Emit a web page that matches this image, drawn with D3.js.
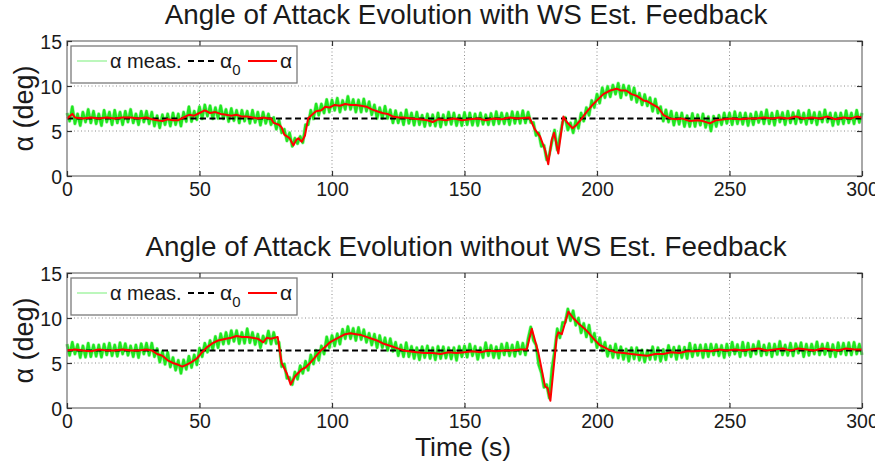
<!DOCTYPE html>
<html>
<head>
<meta charset="utf-8">
<script src="https://cdn.jsdelivr.net/npm/d3@7"></script>
<style>
  body { margin: 0; background: #fff; }
  svg text { font-family: "Liberation Sans", Arial, sans-serif; fill: #1a1a1a; }
</style>
</head>
<body>
<svg id="chart" width="875" height="462"></svg>
<script>
// tick values
var timeTicks = [0, 50, 100, 150, 200, 250, 300];
var alphaTicks = [0, 5, 10, 15];

var titleTop = "Angle of Attack Evolution with WS Est. Feedback";
var titleBot = "Angle of Attack Evolution without WS Est. Feedback";

// alpha_0 reference (deg)
var alpha0 = [[0, 6.4], [300, 6.4]];

// filtered alpha, [time s, deg]
var alphaTop = [[0,6.4],[2,6.9],[3,6.5],[6,6.4],[9,6.5],[12,6.4],[15,6.5],[18,6.4],[21,6.5],[24,6.5],
  [27,6.4],[30,6.5],[32,6.3],[34,6.2],[36,6.1],[38,6.3],[40,6.2],[42,6.2],[44,6.5],[46,6.8],
  [48,6.7],[50,7.0],[52,7.3],[54,7.0],[56,7.1],[58,6.9],[60,6.8],[62,6.7],[64,6.8],[66,6.6],
  [68,6.6],[70,6.5],[72,6.4],[74,6.5],[76,6.4],[77,6.4],[78,5.9],[80,5.7],[81,5.4],[82,4.6],
  [84,4.2],[85.4,3.4],[86.5,4.0],[87.3,4.2],[88.6,3.8],[89.8,4.5],[91,6.4],[92,6.7],[94,7.2],[96,7.3],
  [97.5,7.7],[99,7.6],[101,7.9],[103,7.8],[105,8.0],[107,7.9],[109,7.9],[111,7.8],[113,7.7],[115,7.4],
  [117,7.2],[119,7.0],[121,6.9],[123,6.6],[125,6.5],[127,6.5],[130,6.4],[133,6.3],[136,6.2],[138,6.0],
  [140,6.3],[143,6.2],[146,6.4],[149,6.2],[152,6.3],[155,6.4],[158,6.2],[161,6.4],[164,6.3],[167,6.5],
  [170,6.4],[174.5,6.5],[176.5,5.2],[178.5,4.4],[180.4,2.9],[181.6,1.3],[182.9,4.0],[183.8,4.8],[185.4,2.5],[187.3,6.6],
  [188.6,6.0],[190.8,5.3],[192.3,5.7],[194,6.3],[196,7.1],[198,7.8],[200,8.4],[202.4,9.1],[205,9.5],[207.4,9.7],
  [209,9.5],[211,9.5],[213,9.1],[215,8.9],[217.5,8.4],[219,8.3],[221.3,7.9],[223.1,7.6],[225,6.8],[227.5,6.4],
  [230,6.3],[232,6.4],[235,6.1],[238,6.2],[240,6.1],[242.6,5.85],[245,6.2],[248,6.3],[251,6.4],[254,6.3],
  [257,6.4],[260,6.4],[263,6.5],[266,6.4],[269,6.5],[272,6.4],[275,6.6],[278,6.4],[281,6.5],[284,6.4],
  [287,6.6],[290,6.3],[293,6.5],[296,6.4],[298,6.6],[300,6.5]];

var alphaBot = [[0,6.4],[3,6.5],[6,6.4],[9,6.3],[12,6.5],[15,6.4],[18,6.4],[21,6.5],[24,6.4],[27,6.4],
  [30,6.5],[32,6.4],[34,6.0],[36,5.8],[38,5.3],[40,5.0],[42,4.8],[43.5,4.6],[45,4.8],[47,5.1],
  [49,5.5],[51,6.2],[53,6.8],[55,7.2],[57,7.5],[60,7.7],[62,7.8],[64,8.0],[66,7.9],[68,7.9],
  [70,7.8],[72,7.7],[74,7.3],[75.4,7.8],[77,7.7],[79.5,7.9],[81,5.0],[83,3.8],[84.4,2.6],[86,3.5],
  [88.6,4.3],[90,4.5],[91.7,5.0],[93.5,5.6],[95.5,6.3],[97.5,6.8],[99.2,7.3],[101,7.6],[103,7.9],[105,8.2],
  [107,8.3],[109,8.2],[111,8.1],[113,7.9],[115,7.7],[117,7.5],[119,7.2],[121,7.0],[123,6.8],[125,6.6],
  [127,6.4],[129,6.3],[132,6.2],[135,6.1],[138,6.1],[141,6.0],[144,6.2],[147,6.1],[150,6.2],[153,6.3],
  [156,6.2],[159,6.4],[162,6.3],[165,6.4],[168,6.4],[171,6.5],[173.5,6.5],[175.4,8.8],[177.9,6.1],[180.4,2.4],
  [181.4,2.2],[182.4,0.8],[184.8,7.9],[185.4,8.4],[186.7,8.2],[189.2,10.7],[191,10.0],[193,9.4],[195,8.9],[197,8.3],
  [199,7.6],[201,7.0],[203,6.7],[205,6.4],[207,6.2],[210,6.1],[213,6.0],[216,5.9],[219,5.8],[222,6.0],
  [225,6.0],[228,6.2],[231,6.1],[234,6.3],[237,6.3],[240,6.4],[243,6.3],[246,6.5],[249,6.4],[252,6.5],
  [255,6.4],[258,6.5],[261,6.6],[264,6.4],[267,6.5],[270,6.6],[273,6.4],[276,6.6],[279,6.5],[282,6.4],
  [285,6.6],[288,6.5],[291,6.4],[294,6.6],[297,6.5],[300,6.5]];

// measured alpha, one sample per second from t = 0
var measTop = [7.0,6.1,7.7,5.8,6.9,5.6,7.1,6.0,7.4,5.9,
  7.2,5.8,6.9,5.6,7.3,6.0,7.1,5.7,7.3,5.9,
  7.1,5.7,7.2,6.0,7.4,5.9,6.9,5.7,7.2,6.0,
  7.2,5.8,7.1,5.55,6.7,5.35,6.8,5.7,6.9,5.55,
  7.0,5.7,6.9,5.55,7.1,6.05,7.7,6.05,7.2,6.25,
  7.7,6.35,7.9,6.65,7.8,6.35,7.6,6.4,7.8,6.35,
  7.4,6.05,7.5,6.15,7.3,5.9,7.3,6.1,7.2,5.85,
  7.3,5.95,7.1,5.65,7.1,5.85,6.9,5.7,6.5,5.2,
  6.2,4.8,5.2,3.9,4.8,3.3,4.2,3.6,4.4,3.7,
  5.7,5.7,7.3,6.35,8.0,6.75,8.0,7.0,8.5,7.1,
  8.45,7.3,8.65,7.1,8.4,7.4,8.85,7.4,8.5,7.1,
  8.45,7.1,8.55,7.2,8.25,6.8,7.9,6.4,7.6,6.4,
  7.75,6.4,7.35,5.9,7.25,5.9,7.0,5.7,7.35,5.85,
  7.0,5.65,7.1,5.7,6.75,5.5,6.9,5.6,6.8,5.55,
  7.0,5.45,6.8,5.7,7.1,5.75,7.0,5.6,6.75,5.6,
  7.05,5.7,7.0,5.65,6.9,5.6,7.0,5.75,6.8,5.7,
  6.95,5.7,7.15,5.8,7.0,5.8,6.95,5.7,7.15,5.85,
  7.1,5.85,7.25,5.9,7.1,5.95,5.95,4.5,4.8,3.3,
  3.4,1.8,2.4,3.8,5.1,2.9,4.4,6.0,6.5,5.1,
  5.9,4.8,6.2,5.3,7.0,6.1,7.6,6.75,8.4,7.6,
  9.1,8.1,9.8,8.7,9.95,8.8,10.1,9.1,10.3,8.7,
  10.1,9.0,10.0,8.5,9.8,8.2,9.2,7.9,9.05,7.8,
  8.7,7.2,8.55,7.0,7.7,6.1,7.35,6.0,7.2,5.65,
  7.0,5.75,7.0,5.5,6.7,5.5,6.95,5.5,6.8,5.65,
  6.9,5.4,6.6,5.0,6.65,5.5,6.75,5.7,7.0,5.85,
  7.0,5.7,7.15,5.8,7.0,5.75,7.0,5.6,6.9,5.7,
  7.1,5.95,7.1,5.8,7.35,5.8,7.0,5.65,7.2,6.0,
  7.05,5.7,7.2,5.9,7.05,5.8,7.25,5.95,7.0,5.75,
  7.3,5.9,7.05,5.7,7.1,6.0,7.35,6.0,7.0,5.6,
  7.0,5.75,7.0,5.8,7.25,5.9,7.0,5.8,7.3,5.95,7.0];

var measBot = [7.1,5.85,7.3,6.0,7.05,5.6,6.9,5.65,7.2,5.7,
  7.0,5.75,7.0,5.65,7.1,5.9,7.2,5.8,7.0,5.75,
  7.25,6.0,7.15,5.85,6.9,5.7,7.0,5.6,7.15,6.0,
  7.2,5.85,7.2,5.7,6.6,5.1,6.3,4.85,6.2,4.55,
  5.6,4.2,5.3,3.85,5.35,4.3,5.75,4.5,5.9,4.8,
  6.65,5.7,7.2,6.2,7.5,6.5,7.95,6.7,8.25,7.1,
  8.4,7.15,8.6,7.4,8.6,7.15,8.4,7.2,8.8,7.25,
  8.4,7.05,8.2,6.7,8.0,7.2,8.55,7.1,8.4,7.15,
  7.3,4.6,4.9,3.3,3.4,2.6,4.0,3.2,4.7,3.85,
  5.2,4.2,5.9,4.9,6.4,5.3,6.9,6.0,7.9,6.7,
  8.05,6.9,8.25,7.1,8.75,7.7,9.05,7.7,8.85,7.5,
  8.95,7.6,8.7,7.3,8.3,7.0,8.2,6.7,8.05,6.7,
  7.8,6.4,7.7,6.3,7.3,5.8,7.0,5.7,7.25,5.7,
  6.85,5.5,6.7,5.35,6.8,5.6,6.9,5.5,6.7,5.35,
  6.85,5.5,6.8,5.55,6.7,5.45,6.7,5.3,6.85,5.7,
  6.9,5.65,7.1,5.8,6.85,5.4,6.7,5.6,7.25,5.8,
  6.95,5.6,6.8,5.55,7.1,5.9,7.2,5.8,7.0,5.75,
  7.3,6.0,7.2,5.9,7.7,9.0,7.5,7.0,4.8,3.9,
  2.3,2.6,1.1,4.4,6.3,8.8,7.8,9.5,9.5,11.0,
  9.7,10.8,9.2,10.0,8.35,9.4,7.9,9.2,7.35,8.3,
  6.7,7.8,6.35,7.3,5.75,6.9,5.6,7.1,5.55,6.8,
  5.4,6.55,5.2,6.7,5.45,6.7,5.3,6.45,5.1,6.4,
  5.4,6.8,5.4,6.7,5.2,6.5,5.35,6.95,5.7,6.75,
  5.4,6.85,5.6,6.75,5.5,7.2,5.7,7.0,5.85,7.0,
  5.6,7.05,5.7,7.1,5.9,7.05,5.8,6.95,5.6,7.1,
  5.85,7.3,6.0,7.05,5.7,7.3,5.85,7.2,5.7,7.05,
  6.0,7.4,5.8,7.0,5.9,7.15,5.7,7.1,5.95,7.4,
  5.9,7.0,5.85,7.2,5.8,7.15,6.1,7.25,5.7,7.1,
  5.85,7.1,6.0,7.35,5.9,7.1,5.95,7.2,5.7,7.05,
  5.7,7.25,6.0,7.2,5.9,7.25,5.9,7.3,6.0,7.1,5.9];

var svg = d3.select("#chart");

var x = d3.scaleLinear().domain([0, 300]).range([67, 862]);

var panels = [
  {title: titleTop, top: 41, bottom: 176, titleY: 24, meas: measTop, alpha: alphaTop},
  {title: titleBot, top: 273, bottom: 408, titleY: 256, meas: measBot, alpha: alphaBot}
];

panels.forEach(function (p) {
  var y = d3.scaleLinear().domain([0, 15]).range([p.bottom, p.top]);
  var g = svg.append("g");

  // dotted grid
  g.selectAll(".gx").data(timeTicks.slice(1, -1)).enter().append("line")
    .attr("x1", d => x(d)).attr("x2", d => x(d))
    .attr("y1", p.top).attr("y2", p.bottom)
    .attr("stroke", "#8c8c8c").attr("stroke-width", 1)
    .attr("stroke-dasharray", "1,2.5");
  g.selectAll(".gy").data(alphaTicks.slice(1, -1)).enter().append("line")
    .attr("x1", x(0)).attr("x2", x(300))
    .attr("y1", d => y(d)).attr("y2", d => y(d))
    .attr("stroke", "#8c8c8c").attr("stroke-width", 1)
    .attr("stroke-dasharray", "1,2.5");

  // measured (noisy): light fringe + core
  var measLine = d3.line().x((d, i) => x(i)).y(d => y(d));
  g.append("path").datum(p.meas)
    .attr("d", measLine)
    .attr("fill", "none")
    .attr("stroke", "#a8f5a8")
    .attr("stroke-width", 3.6)
    .attr("stroke-linejoin", "round");
  g.append("path").datum(p.meas)
    .attr("d", measLine)
    .attr("fill", "none")
    .attr("stroke", "#1fe61f")
    .attr("stroke-width", 2.4)
    .attr("stroke-linejoin", "round");

  var line = d3.line().x(d => x(d[0])).y(d => y(d[1]));

  // alpha_0
  g.append("path").datum(alpha0)
    .attr("d", line)
    .attr("fill", "none")
    .attr("stroke", "#000")
    .attr("stroke-width", 2)
    .attr("stroke-dasharray", "6,3.5");

  // alpha
  g.append("path").datum(p.alpha)
    .attr("d", line)
    .attr("fill", "none")
    .attr("stroke", "#ff0000")
    .attr("stroke-width", 2)
    .attr("stroke-linejoin", "round");

  // axes box
  g.append("rect")
    .attr("x", x(0)).attr("y", p.top)
    .attr("width", x(300) - x(0)).attr("height", p.bottom - p.top)
    .attr("fill", "none").attr("stroke", "#7a7a7a").attr("stroke-width", 1.3);

  var xAxis = d3.axisBottom(x).tickValues(timeTicks)
    .tickSizeInner(-5).tickSizeOuter(0).tickPadding(6);
  var gx = g.append("g").attr("transform", "translate(0," + p.bottom + ")").call(xAxis);
  var gxTop = g.append("g").attr("transform", "translate(0," + p.top + ")")
    .call(d3.axisTop(x).tickValues(timeTicks).tickSizeInner(-5).tickSizeOuter(0).tickFormat(""));

  var yAxis = d3.axisLeft(y).tickValues(alphaTicks)
    .tickSizeInner(-5).tickSizeOuter(0).tickPadding(5);
  var gy = g.append("g").attr("transform", "translate(" + x(0) + ",0)").call(yAxis);
  var gyR = g.append("g").attr("transform", "translate(" + x(300) + ",0)")
    .call(d3.axisRight(y).tickValues(alphaTicks).tickSizeInner(-5).tickSizeOuter(0).tickFormat(""));

  [gx, gxTop, gy, gyR].forEach(function (a) {
    a.select(".domain").remove();
    a.selectAll("line").attr("stroke", "#333").attr("stroke-width", 1.2);
    a.selectAll("text").style("font-size", "19.5px").attr("fill", "#1a1a1a");
  });
  gy.selectAll("text").attr("dy", "0.36em");

  // title
  svg.append("text")
    .attr("x", 466).attr("y", p.titleY)
    .attr("text-anchor", "middle")
    .style("font-size", "27.8px")
    .text(p.title);

  // y label
  svg.append("text")
    .attr("transform", "translate(33," + ((p.top + p.bottom) / 2) + ") rotate(-90)")
    .attr("text-anchor", "middle")
    .style("font-size", "27px")
    .text("α (deg)");

  // legend
  var lg = svg.append("g").attr("transform", "translate(71," + (p.top + 5) + ")");
  lg.append("rect").attr("width", 226).attr("height", 37)
    .attr("fill", "#fff").attr("stroke", "#7a7a7a").attr("stroke-width", 1.3);
  var ly = 15, ty = 22;
  lg.append("line").attr("x1", 6).attr("x2", 36).attr("y1", ly).attr("y2", ly)
    .attr("stroke", "#a6f5a6").attr("stroke-width", 1.5);
  lg.append("text").attr("x", 39).attr("y", ty).style("font-size", "20px").text("α meas.");
  lg.append("line").attr("x1", 117).attr("x2", 147).attr("y1", ly).attr("y2", ly)
    .attr("stroke", "#000").attr("stroke-width", 2).attr("stroke-dasharray", "6,4");
  var t0 = lg.append("text").attr("x", 149).attr("y", ty).style("font-size", "21px");
  t0.append("tspan").text("α");
  t0.append("tspan").attr("dy", 7).style("font-size", "15px").text("0");
  lg.append("line").attr("x1", 177).attr("x2", 206).attr("y1", ly).attr("y2", ly)
    .attr("stroke", "#ff0000").attr("stroke-width", 2);
  lg.append("text").attr("x", 209).attr("y", ty).style("font-size", "21px").text("α");
});

// x label
svg.append("text")
  .attr("x", 463).attr("y", 456)
  .attr("text-anchor", "middle")
  .style("font-size", "26.5px")
  .text("Time (s)");
</script>
</body>
</html>
